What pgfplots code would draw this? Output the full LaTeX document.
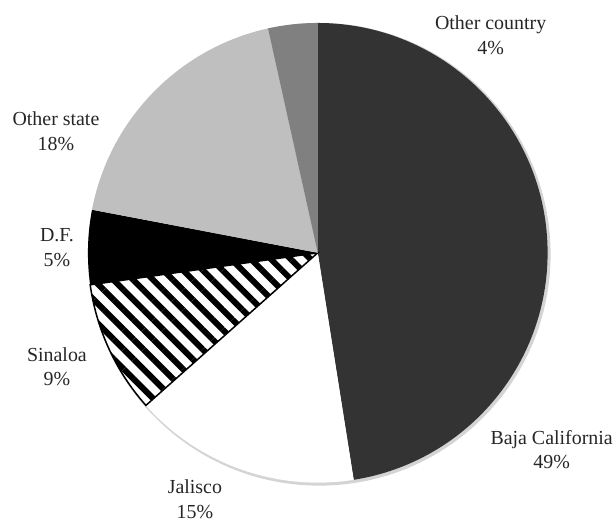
\documentclass[border=0pt]{standalone}
\usepackage{fontspec}
\setmainfont{Liberation Serif}
\usepackage{pgfplots}
\pgfplotsset{compat=1.18}
\usetikzlibrary{patterns.meta}
\definecolor{baja}{HTML}{333333}
\definecolor{ostate}{HTML}{BFBFBF}
\definecolor{ocountry}{HTML}{808080}
\definecolor{rim}{HTML}{D4D4D4}
\begin{document}
\begin{tikzpicture}
\begin{axis}[
  scale only axis, width=616bp, height=519bp,
  xmin=0, xmax=616, ymin=0, ymax=519,
  hide axis, clip=false,
]
% pie centre (318,266) in axis units (y measured from bottom), radius 230
\path (axis cs:0,0) rectangle (axis cs:616,519);
\fill[rim] (axis cs:319.5,264.5) circle[radius=231.5bp];
% Baja California 49%, Jalisco 15%, Sinaloa 9%, D.F. 5%, Other state 18%, Other country 4%
\fill[baja] (axis cs:318,266) -- ++(90:230bp) arc[start angle=90, end angle=-81, radius=230bp] -- cycle;
\fill[white] (axis cs:318,266) -- ++(-81:230bp) arc[start angle=-81, end angle=-138.4, radius=230bp] -- cycle;
\fill[white] (axis cs:318,266) -- ++(-138.4:230bp) arc[start angle=-138.4, end angle=-172, radius=230bp] -- cycle;
\fill[pattern={Lines[angle=-45, distance=14bp, line width=6bp]}, pattern color=black] (axis cs:318,266) -- ++(-138.4:230bp) arc[start angle=-138.4, end angle=-172, radius=230bp] -- cycle;
\draw[black, line width=1.5bp] (axis cs:318,266) -- ++(-138.4:230bp) arc[start angle=-138.4, end angle=-172, radius=230bp] -- cycle;
\fill[black] (axis cs:318,266) -- ++(-172:230bp) arc[start angle=-172, end angle=-190.8, radius=230bp] -- cycle;
\fill[ostate] (axis cs:318,266) -- ++(169.2:230bp) arc[start angle=169.2, end angle=102.5, radius=230bp] -- cycle;
\fill[ocountry] (axis cs:318,266) -- ++(102.5:230bp) arc[start angle=102.5, end angle=90, radius=230bp] -- cycle;
\begin{scope}[every node/.style={align=center, font=\fontsize{20}{25}\selectfont, text=black!85}]
\node at (axis cs:491,484) {Other country\\4\%};
\node at (axis cs:56,388) {Other state\\18\%};
\node at (axis cs:57,271) {D.F.\\5\%};
\node at (axis cs:57,152) {Sinaloa\\9\%};
\node at (axis cs:195,19) {Jalisco\\15\%};
\node at (axis cs:552,69) {Baja California\\49\%};
\end{scope}
\end{axis}
\end{tikzpicture}
\end{document}
